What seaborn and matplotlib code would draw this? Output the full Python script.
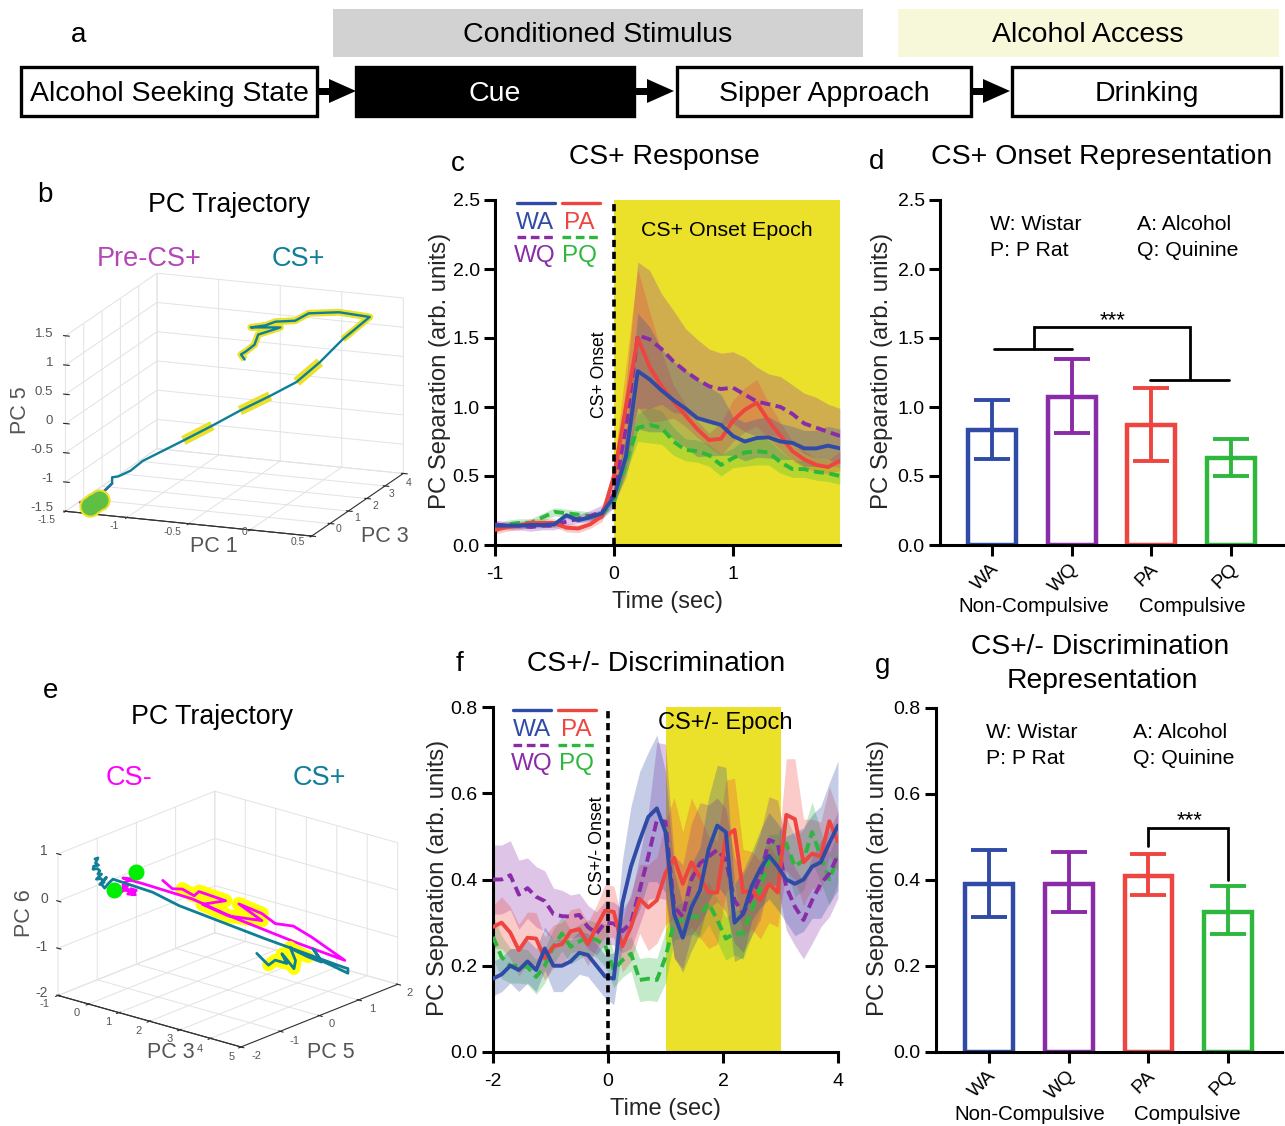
import numpy as np
import pandas as pd
import matplotlib
matplotlib.use('Agg')
import matplotlib.pyplot as plt
from matplotlib.patches import Rectangle, Polygon
from matplotlib.transforms import ScaledTranslation
import seaborn as sns

W, H = 1285, 1126

# colours
groups = ['WA', 'WQ', 'PA', 'PQ']
colors = {'WA': '#2F4BA6', 'WQ': '#8A2BA8', 'PA': '#EE4540', 'PQ': '#2DB83D'}
draw_order = ['PQ', 'WQ', 'PA', 'WA']
dash_map = {'WA': '', 'PA': '', 'WQ': (2.6, 1.4), 'PQ': (2.6, 1.4)}
epoch_yellow = '#EBE12A'
teal = '#0E7F97'

# panel c: CS+ response
c_time = np.round(np.arange(-1, 1.95, 0.1), 1)
c_mean = {
    'WA': [.14, .14, .14, .145, .145, .15, .215, .18, .2, .23, .35, .64, 1.26, 1.2, 1.12, 1.05, .99, .92, .895, .87,
           .79, .75, .775, .78, .75, .74, .7, .7, .72, .7],
    'PA': [.11, .13, .14, .16, .16, .16, .125, .12, .15, .21, .5, 1.0, 1.5, 1.29, 1.15, 1.04, .94, .84, .76, .77,
           .9, .98, 1.03, .9, .79, .68, .62, .58, .565, .61],
    'WQ': [.15, .14, .14, .13, .14, .14, .17, .19, .21, .24, .37, .85, 1.52, 1.49, 1.42, 1.33, 1.26, 1.2, 1.15, 1.13,
           1.14, 1.09, 1.04, 1.02, 1.0, .95, .88, .85, .82, .79],
    'PQ': [.12, .15, .16, .16, .2, .24, .23, .22, .21, .22, .32, .6, .85, .87, .85, .75, .69, .68, .65, .58,
           .63, .67, .68, .67, .6, .55, .55, .53, .52, .5],
}
c_sem = {
    'WA': [.02, .02, .02, .02, .02, .02, .02, .02, .02, .03, .05, .15, .42, .38, .3, .28, .28, .28, .25, .22,
           .14, .14, .14, .15, .13, .12, .13, .13, .14, .14],
    'PA': [.03, .03, .03, .03, .03, .03, .03, .03, .03, .04, .08, .3, .5, .4, .25, .12, .08, .06, .05, .12,
           .15, .16, .17, .13, .1, .07, .06, .05, .05, .07],
    'WQ': [.03, .03, .03, .03, .03, .03, .03, .03, .04, .05, .1, .3, .53, .5, .4, .37, .31, .29, .27, .26,
           .26, .27, .25, .22, .22, .21, .22, .22, .2, .2],
    'PQ': [.03, .03, .03, .03, .03, .03, .03, .03, .03, .03, .03, .08, .1, .13, .12, .1, .08, .08, .08, .08,
           .07, .1, .1, .09, .08, .06, .06, .06, .06, .06],
}

# panel f: CS+/- discrimination
f_time = np.round(np.arange(-2, 4.05, 0.15), 2)
f_mean = {
    'WA': [.17, .18, .20, .19, .21, .19, .24, .20, .20, .21, .23, .225, .20, .175, .17, .345, .43, .49, .545, .565,
           .51, .32, .265, .335, .375, .47, .525, .51, .30, .32, .385, .425, .455, .43, .40, .39, .40, .43, .44, .485, .525],
    'PA': [.29, .30, .277, .236, .265, .263, .217, .245, .25, .28, .285, .25, .29, .328, .325, .245, .29, .355, .335, .352,
           .415, .45, .39, .44, .405, .37, .37, .50, .515, .37, .375, .352, .39, .37, .55, .54, .44, .46, .453, .535, .488],
    'WQ': [.40, .40, .41, .365, .38, .36, .35, .32, .315, .314, .318, .29, .275, .30, .298, .28, .30, .375, .453, .538,
           .534, .337, .314, .40, .438, .453, .469, .445, .352, .321, .36, .407, .492, .484, .383, .337, .306, .352, .39, .414, .457],
    'PQ': [.267, .22, .20, .20, .197, .174, .20, .244, .275, .244, .256, .267, .26, .248, .19, .213, .228, .167, .17, .167,
           .22, .30, .306, .314, .314, .345, .306, .263, .275, .275, .33, .383, .445, .445, .484, .43, .445, .51, .453, .40, .453],
}
f_sem = {
    'WA': [.04, .04, .04, .05, .05, .05, .05, .06, .06, .05, .05, .05, .05, .05, .06, .1, .14, .16, .15, .17,
           .14, .1, .08, .1, .1, .12, .14, .15, .09, .1, .08, .09, .1, .1, .1, .12, .12, .12, .13, .14, .15],
    'PA': [.05, .06, .06, .06, .06, .06, .05, .05, .05, .05, .05, .05, .05, .06, .06, .06, .08, .08, .1, .1,
           .12, .14, .12, .15, .14, .13, .12, .13, .12, .1, .09, .09, .09, .08, .13, .14, .1, .08, .08, .08, .07],
    'WQ': [.08, .08, .08, .08, .07, .07, .07, .06, .06, .05, .05, .05, .05, .05, .05, .05, .06, .08, .1, .18,
           .18, .12, .12, .13, .14, .12, .12, .12, .1, .09, .09, .1, .1, .1, .1, .09, .09, .1, .1, .1, .1],
    'PQ': [.05, .05, .04, .04, .04, .04, .04, .04, .04, .04, .04, .04, .04, .05, .04, .04, .04, .05, .05, .05,
           .06, .04, .04, .04, .05, .05, .05, .05, .05, .06, .06, .06, .06, .06, .06, .07, .07, .07, .06, .06, .06],
}

# bar panels
d_values = [.83, 1.07, .87, .63]
d_low = [.62, .81, .61, .50]
d_high = [1.05, 1.35, 1.14, .77]
g_values = [.39, .39, .41, .325]
g_low = [.315, .325, .365, .275]
g_high = [.47, .465, .46, .385]

# panel b trajectory (PC1, PC3, PC5)
b_cs_x = [-1.33, -1.21, -1.225, -1.19, -1.12, -1.05, -.78, -.59, -.41, -.21, -.04, .12, .275, .465, .156, -.12, -.23,
          -.39, -.47, -.59, -.35, -.53, -.56, -.63, -.67, -.64]
b_cs_y = [-.8, -.4, -.3, -.2, 0, .2, .6, .9, 1.2, 1.5, 1.8, 2, 2.2, 2.4, 2.8, 3, 3, 3, 3, 3, 3, 3, 3, 3, 3, 3]
b_cs_z = [-1.40, -1.09, -1.01, -1.01, -.94, -.80, -.48, -.25, -.02, .21, .42, .75, 1.13, 1.51, 1.44, 1.32, 1.17, 1.12,
          1.04, .98, 1.03, .87, .69, .56, .5, .42]
b_wide_spans = [(6, 8), (8, 10), (10, 12)]
b_narrow_span = (12, 26)
b_pre_x = [-1.41, -1.33, -1.21]
b_pre_y = [-.8, -.8, -.4]
b_pre_z = [-1.37, -1.40, -1.09]
b_dot_x = [-1.33, -1.30, -1.26]
b_dot_y = [-.8, -.8, -.8]
b_dot_z = [-1.42, -1.36, -1.30]

# panel e trajectories (PC3, PC5, PC6)
e_plus_x = [-.82, -.72, -.80, -.70, -.86, -.88, -.74, -.66, -.72, -.60, -.77, -.62, -.52, -.66, -.44, -.61, -.5, -.4,
            -.23, .6, 1.3, 3, 4.5, 4.6, 4.6, 4, 4, 4, 4, 4, 4, 4, 4, 4, 4, 4, 4, 4, 4]
e_plus_y = [-1.2] * 19 + [-.83, -.7, .17, .99, 1.04, 1.04, .83, .62, .83, .49, .07, .03, .17, .13, -.1, -.18, -.05,
                          -.35, -.52, -.82]
e_plus_z = [.66, .70, .58, .55, .50, .43, .47, .44, .36, .38, .24, .28, .22, .15, .34, .17, .1, .2, .34, .09, -.11,
            -.79, -1.39, -1.42, -1.52, -1.29, -.97, -1.32, -1.10, -.79, -.74, -1.07, -1.23, -.91, -.81, -1.06, -.89,
            -.94, -.59]
e_plus_yellow = (28, 38)
e_minus_x = [-.16, 0, -.1, .12, 0, .25, .1, .28, .15, -.05, -.21, -.1, .17, -.16, .5, 2, 3, 4, 4.6, 4, 3.8, 3.4, 3,
             2.5, 3, 2.5, 2, 2.5, 2, 2, 1.7, 1.4, 1.2]
e_minus_y = [-1] * 15 + [-.91, -.67, .24, .96, .58, .27, .12, .09, -.11, .09, -.37, -.65, -.45, -.74, -.86, -.93, -.95,
                         -1.04]
e_minus_z = [.16, .18, .06, .08, 0, .03, .13, .13, .02, .13, 0, .23, .35, .31, .31, .23, -.05, -.73, -1.22, -.71,
             -.41, -.38, -.23, -.05, -.38, -.22, .03, .13, .33, .28, .39, .35, .52]
e_minus_yellow = (22, 31)
e_dot_x = [-.46, .28]
e_dot_y = [-1, -1]
e_dot_z = [0.0, .51]

# tick labels of the 3D boxes
b_x_ticks = ['-1.5', '-1', '-0.5', '0', '0.5']
b_y_ticks = ['0', '1', '2', '3', '4']
b_z_ticks = ['-1.5', '-1', '-0.5', '0', '0.5', '1', '1.5']
e_x_ticks = ['-1', '0', '1', '2', '3', '4', '5']
e_y_ticks = ['-2', '-1', '0', '1', '2']
e_z_ticks = ['-2', '-1', '0', '1']

sns.set_style('ticks')
plt.rcParams['font.family'] = ['Liberation Sans', 'DejaVu Sans']
plt.rcParams['axes.edgecolor'] = 'black'
plt.rcParams['axes.unicode_minus'] = False

fig = plt.figure(figsize=(W / 100, H / 100), dpi=100)


def px_axes(l, t, r, b, **kw):
    return fig.add_axes([l / W, 1 - b / H, (r - l) / W, (b - t) / H], **kw)


def style_2d(ax):
    sns.despine(ax=ax)
    for s in ['left', 'bottom']:
        ax.spines[s].set_linewidth(2.2)
    ax.tick_params(width=2.2, length=8, labelsize=14, color='black', labelcolor='black', pad=3)
    ax.tick_params(axis='x', pad=7)
    ax.patch.set_alpha(0)


def long_table(time, means):
    rows = []
    for g in groups:
        rows.append(pd.DataFrame({'t': time, 'v': means[g], 'group': g}))
    return pd.concat(rows, ignore_index=True)


def time_panel(box, time, means, sems, xlim, ylim, xticks, yticks, yfmt, span):
    ax = px_axes(*box)
    ax.axvspan(span[0], span[1], color=epoch_yellow, lw=0, zorder=0)
    for g in draw_order:
        m = np.array(means[g])
        s = np.array(sems[g])
        ax.fill_between(time, m - s, m + s, color=colors[g], alpha=0.28, lw=0, zorder=1)
    sns.lineplot(data=long_table(time, means), x='t', y='v', hue='group', style='group', hue_order=draw_order,
                 style_order=draw_order, palette=colors, dashes=dash_map, linewidth=2.8, errorbar=None, legend=False,
                 ax=ax, zorder=3)
    ax.axvline(0, color='black', lw=2.6, dashes=(2, 1.3), zorder=4)
    ax.set_xlim(*xlim)
    ax.set_ylim(*ylim)
    ax.set_xticks(xticks)
    ax.set_yticks(yticks)
    ax.set_yticklabels([yfmt % y for y in yticks])
    ax.set_xlabel('Time (sec)', fontsize=17, labelpad=6)
    ax.set_ylabel('PC Separation (arb. units)', fontsize=17.2, labelpad=1, y=.505)
    style_2d(ax)
    return ax


def bar_panel(box, values, low, high, ylim, yticks, xlim):
    ax = px_axes(*box)
    df = pd.DataFrame({'group': groups, 'v': values})
    sns.barplot(data=df, x='group', y='v', hue='group', palette=colors, fill=False, width=.6, linewidth=3.2, errorbar=None,
                legend=False, ax=ax)
    for i, g in enumerate(groups):
        ax.errorbar(i, values[i], yerr=[[values[i] - low[i]], [high[i] - values[i]]], color=colors[g], capsize=13,
                    elinewidth=2.8, capthick=2.8)
    ax.set_xlim(*xlim)
    ax.set_ylim(*ylim)
    ax.set_yticks(yticks)
    ax.set_yticklabels(['%.1f' % y for y in yticks])
    ax.set_xlabel('')
    ax.set_ylabel('PC Separation (arb. units)', fontsize=17.2, labelpad=3, y=.505)
    style_2d(ax)
    ax.tick_params(axis='x', pad=3)
    ax.set_xticks(range(4))
    ax.set_xticklabels(groups, rotation=45, ha='right', rotation_mode='anchor', fontsize=14)
    shift = ScaledTranslation(-2 / 100, 0, fig.dpi_scale_trans)
    for lab in ax.get_xticklabels():
        lab.set_transform(lab.get_transform() + shift)
    return ax


def traj_axes(cx, cy, width, aspect, elev, azim, xlim, ylim, zlim, xticks, yticks, zticks):
    ax = px_axes(cx - width / 2, cy - width / 2, cx + width / 2, cy + width / 2, projection='3d', proj_type='ortho')
    ax.view_init(elev, azim)
    ax.set_box_aspect(aspect)
    ax.set_xlim(*xlim, view_margin=0)
    ax.set_ylim(*ylim, view_margin=0)
    ax.set_zlim(*zlim, view_margin=0)
    ax.set_xticks(xticks)
    ax.set_yticks(yticks)
    ax.set_zticks(zticks)
    ax.set_xticklabels([])
    ax.set_yticklabels([])
    ax.set_zticklabels([])
    ax.patch.set_alpha(0)
    for axis in [ax.xaxis, ax.yaxis, ax.zaxis]:
        axis.set_pane_color((1, 1, 1, 0))
        axis.pane.set_edgecolor('#dddddd')
        axis._axinfo['grid'].update(color='#e2e2e2', linewidth=.7)
        axis.line.set_color('#333333')
        axis.line.set_linewidth(.8)
    ax.zaxis._axinfo['juggled'] = (1, 0, 2)
    return ax


# 3D panels first, the 2D axes go over their empty margins
ax_b = traj_axes(229, 410, 398, (264, 256, 182), 15.2, -69, (-1.5, .5), (-1, 4), (-1.5, 1.5),
                 [-1.5, -1, -.5, 0, .5], [-1, 0, 1, 2, 3, 4], [-1.5, -1, -.5, 0, .5, 1, 1.5])
bx, by, bz = np.array(b_cs_x), np.array(b_cs_y), np.array(b_cs_z)
for i, j in b_wide_spans:
    ax_b.plot(bx[i:j], by[i:j], bz[i:j], color=epoch_yellow, lw=7, solid_capstyle='butt')
i, j = b_narrow_span
ax_b.plot(bx[i:j], by[i:j], bz[i:j], color=epoch_yellow, lw=5, solid_capstyle='butt')
ax_b.plot(b_pre_x, b_pre_y, b_pre_z, color='#B546B5', lw=2)
ax_b.plot(bx, by, bz, color=teal, lw=1.7)
ax_b.plot(b_dot_x, b_dot_y, b_dot_z, 'o', color=epoch_yellow, ms=15)
ax_b.plot(b_dot_x, b_dot_y, b_dot_z, 'o', color='#5FBF45', ms=12)

ax_e = traj_axes(223, 924, 362, (240, 245, 151), 19.6, -50, (-1, 5), (-2, 2), (-2, 1),
                 [-1, 0, 1, 2, 3, 4, 5], [-2, -1, 0, 1, 2], [-2, -1, 0, 1])
ex, ey, ez = np.array(e_minus_x), np.array(e_minus_y), np.array(e_minus_z)
i, j = e_minus_yellow
ax_e.plot(ex[i:j], ey[i:j], ez[i:j], color='#FFFF00', lw=10)
ax_e.plot(ex, ey, ez, color='#FF00FF', lw=2)
px3, py3, pz3 = np.array(e_plus_x), np.array(e_plus_y), np.array(e_plus_z)
i, j = e_plus_yellow
ax_e.plot(px3[i:j], py3[i:j], pz3[i:j], color='#FFFF00', lw=9)
ax_e.plot(px3, py3, pz3, color=teal, lw=2)
ax_e.plot(e_dot_x, e_dot_y, e_dot_z, 'o', color='#00EE00', ms=10.5)

ax_c = time_panel((495, 200, 840, 545), c_time, c_mean, c_sem, (-1, 1.9), (0, 2.5), [-1, 0, 1],
                  [0, .5, 1, 1.5, 2, 2.5], '%.1f', (0, 1.9))
ax_f = time_panel((493, 707, 838, 1052), f_time, f_mean, f_sem, (-2, 4), (0, .8), [-2, 0, 2, 4],
                  [0, .2, .4, .6, .8], '%.1f', (1, 3))
ax_d = bar_panel((940, 200, 1285, 545), d_values, d_low, d_high, (0, 2.5), [0, .5, 1, 1.5, 2, 2.5], (-.652, 3.676))
ax_g = bar_panel((936, 708, 1282, 1052), g_values, g_low, g_high, (0, .8), [0, .2, .4, .6, .8], (-.665, 3.676))

# overlay in pixel coordinates for everything that is not data
ov = fig.add_axes([0, 0, 1, 1])
ov.set_xlim(0, W)
ov.set_ylim(H, 0)
ov.axis('off')
ov.patch.set_alpha(0)


def txt(x, y, s, size=16, color='black', **kw):
    kw.setdefault('ha', 'center')
    kw.setdefault('va', 'center')
    ov.text(x, y + 2, s, fontsize=size, color=color, **kw)


ov.add_patch(Rectangle((333, 9), 530, 48, fc='#D2D2D2', ec='none'))
ov.add_patch(Rectangle((898, 9), 381, 48, fc='#F7F7DA', ec='none'))
txt(598, 33, 'Conditioned Stimulus', 20.5)
txt(1088, 33, 'Alcohol Access', 20.5)
for x0, x1, fc, tc, s in [(21, 317, 'white', 'black', 'Alcohol Seeking State'), (356, 634, 'black', 'white', 'Cue'),
                          (677, 971, 'white', 'black', 'Sipper Approach'), (1012, 1281, 'white', 'black', 'Drinking')]:
    ov.add_patch(Rectangle((x0, 67), x1 - x0, 49, fc=fc, ec='black', lw=2.4))
    txt((x0 + x1) / 2, 92, s, 20.5, tc)
for x0 in [318, 636, 972]:
    ov.add_patch(Polygon([(x0, 88), (x0 + 11, 88), (x0 + 11, 79), (x0 + 38, 91), (x0 + 11, 103), (x0 + 11, 95), (x0, 95)],
                         fc='black', ec='none'))

for x, y, s in [(79, 33, 'a'), (45, 193, 'b'), (458, 162, 'c'), (877, 160, 'd'), (51, 689, 'e'), (460, 662, 'f'),
                (883, 664, 'g')]:
    txt(x, y, s, 20)
txt(664, 155, 'CS+ Response', 20.3)
txt(1102, 155, 'CS+ Onset Representation', 20.5)
txt(656, 662, 'CS+/- Discrimination', 20.3)
txt(1100, 645, 'CS+/- Discrimination', 20.3)
txt(1102, 679, 'Representation', 20.3)
txt(229, 203, 'PC Trajectory', 19.3)
txt(212, 715, 'PC Trajectory', 19.3)
txt(149, 257, 'Pre-CS+', 19.5, '#B546B5')
txt(298, 257, 'CS+', 19.5, teal)
txt(129, 776, 'CS-', 19.5, '#FF00FF')
txt(319, 776, 'CS+', 19.5, teal)

gray = '#555555'
txt(20, 408, 'PC 5', 15.5, gray, rotation=90)
txt(214, 544, 'PC 1', 15.5, gray)
txt(385, 535, 'PC 3', 15.5, gray)
txt(25, 911, 'PC 6', 15.5, gray, rotation=90)
txt(171, 1051, 'PC 3', 15.5, gray)
txt(331, 1050, 'PC 5', 15.5, gray)
for s, x, y in zip(b_x_ticks, [47, 114, 172, 244, 298], [518, 524, 530, 530, 540]):
    txt(x, y, s, 7.5, gray)
for s, x, y in zip(b_y_ticks, [339, 357, 375, 392, 409], [527, 516, 504, 492, 481]):
    txt(x, y, s, 7.5, gray)
for s, y in zip(b_z_ticks, [506, 477, 448, 419, 390, 361, 332]):
    txt(53, y, s, 9.5, gray, ha='right')
for s, x, y in zip(e_x_ticks, [45, 77, 108, 139, 170, 200, 232], [1002, 1011, 1020, 1029, 1037, 1047, 1055]):
    txt(x, y, s, 8, gray)
for s, x, y in zip(e_y_ticks, [257, 295, 332, 372, 410], [1054, 1039, 1022, 1007, 991]):
    txt(x, y, s, 8, gray)
for s, y in zip(e_z_ticks, [991, 945, 897, 849]):
    txt(48, y, s, 10, gray, ha='right')

for (x0, x1, yl, yt1, yt2, xa, xb) in [(517, 562, 203, 222, 237, 535, 579), (513, 558, 710, 729, 745, 532, 576)]:
    ov.plot([x0, x0 + 38], [yl, yl], color=colors['WA'], lw=2.4)
    ov.plot([x1, x1 + 38], [yl, yl], color=colors['PA'], lw=2.4)
    ov.plot([x0, x0 + 38], [yt2, yt2], color=colors['WQ'], lw=2.4, dashes=(2.6, 1.4))
    ov.plot([x1, x1 + 38], [yt2, yt2], color=colors['PQ'], lw=2.4, dashes=(2.6, 1.4))
    txt(xa, yt1 - 1, 'WA', 17.5, colors['WA'])
    txt(xb, yt1 - 1, 'PA', 17.5, colors['PA'])
    txt(xa, yt2 + 17, 'WQ', 17.5, colors['WQ'])
    txt(xb, yt2 + 17, 'PQ', 17.5, colors['PQ'])
txt(727, 229, 'CS+ Onset Epoch', 15.4)
txt(725, 721, 'CS+/- Epoch', 17)
txt(600, 373, 'CS+ Onset', 12.7, rotation=90)
txt(598, 844, 'CS+/- Onset', 12.9, rotation=90)

for x0, x1, y0 in [(990, 1137, 222), (986, 1133, 730)]:
    txt(x0, y0, 'W: Wistar', 15.3, ha='left')
    txt(x0, y0 + 26, 'P: P Rat', 15.3, ha='left')
    txt(x1, y0, 'A: Alcohol', 15.3, ha='left')
    txt(x1, y0 + 26, 'Q: Quinine', 15.3, ha='left')
txt(1034, 605, 'Non-Compulsive', 14.7)
txt(1192, 605, 'Compulsive', 14.7)
txt(1030, 1112, 'Non-Compulsive', 14.7)
txt(1187, 1112, 'Compulsive', 14.7)

for xs, ys in [([994, 1072], [349, 349]), ([1034, 1034, 1190, 1190], [349, 327, 327, 379]), ([1150, 1229], [380, 380]),
               ([1148, 1148, 1228, 1228], [846, 828, 828, 880])]:
    ov.plot(xs, ys, color='black', lw=2, solid_joinstyle='miter')
txt(1113, 319, '***', 16)
txt(1190, 819, '***', 16)

fig.savefig('out.png', dpi=100)
